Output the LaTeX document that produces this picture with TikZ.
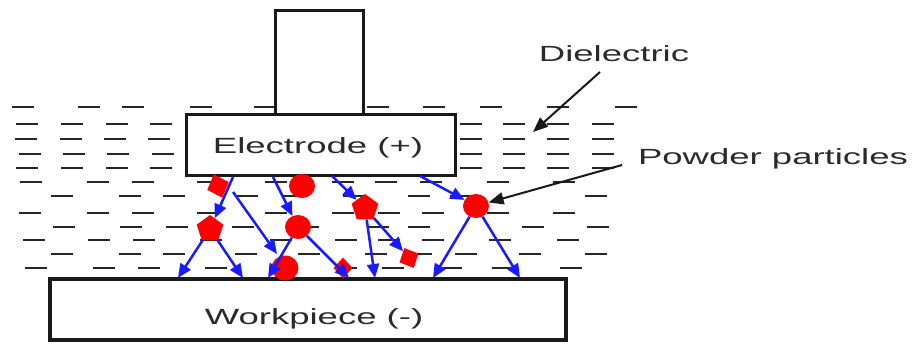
\documentclass[tikz,border=0pt]{standalone}
\usepackage{fontspec}
\setmainfont{Liberation Sans}
\usetikzlibrary{arrows.meta,shapes.geometric}
\definecolor{txt}{HTML}{2A2A2A}
\definecolor{pblue}{HTML}{1A1AFF}
\newcommand{\lbl}[1]{\fontsize{22}{26}\selectfont\scalebox{1.66}[1]{#1}}
\begin{document}
\begin{tikzpicture}[x=1pt,y=-1pt,
  dl/.style={line width=2.2pt,black!85},
  boxn/.style={draw=black!90,fill=white,inner sep=0pt,text=txt},
  barrow/.style={pblue,line width=2.5pt,-{Triangle[length=14pt,width=12pt]}},
  karrow/.style={black!90,line width=2pt,-{Triangle[length=15pt,width=12pt]}},
  ptc/.style={fill=red,inner sep=0pt,draw=none},
  circp/.style={ptc,ellipse,minimum width=26pt,minimum height=24pt},
  pentp/.style={ptc,regular polygon,regular polygon sides=5,minimum size=28pt},
  diap/.style={ptc,diamond,minimum width=23pt,minimum height=25pt},
  lab/.style={text=txt,inner sep=0pt}]
\useasboundingbox (0,0) rectangle (912,345);
% dielectric dashes
\foreach \x in {12,78,122,190,254,367,423,480,547,615} \draw[dl] (\x,107) -- ++(22,0);
\foreach \x in {16,61,106,150,460,503,547,592} \draw[dl] (\x,124) -- ++(22,0);
\foreach \x in {15,60,104,148,460,503,547,592} \draw[dl] (\x,139) -- ++(22,0);
\foreach \x in {19,63,107,152,460,503,547,592} \draw[dl] (\x,154) -- ++(22,0);
\foreach \x in {16,61,106,150,460,503,547,592} \draw[dl] (\x,168) -- ++(22,0);
\foreach \x in {20,87,132,197,265,332,375,420,487,553} \draw[dl] (\x,182) -- ++(22,0);
\foreach \x in {51,119,163,236,283,343,408,450,585} \draw[dl] (\x,196) -- ++(22,0);
\foreach \x in {19,87,132,197,265,332,378,422,487,553} \draw[dl] (\x,213) -- ++(22,0);
\foreach \x in {53,120,166,232,297,367,408,522,587} \draw[dl] (\x,227) -- ++(22,0);
\foreach \x in {23,88,133,200,270,335,378,422,489,557} \draw[dl] (\x,240) -- ++(22,0);
\foreach \x in {51,119,163,235,298,365,410,455,519,585} \draw[dl] (\x,254) -- ++(22,0);
\foreach \x in {25,93,138,205,270,335,382,440,492,560} \draw[dl] (\x,268) -- ++(22,0);
% electrode and workpiece
\node[boxn,line width=3pt,minimum width=88pt,minimum height=103pt] (shaft) at (319,62.5) {};
\node[boxn,line width=3pt,minimum width=269pt,minimum height=61pt] (el) at (320.5,144.5) {};
\node[lab] (eltext) at (318,148) {\lbl{Electrode (+)}};
\node[boxn,line width=4pt,minimum width=516pt,minimum height=61pt] (wp) at (308,309.5) {};
\node[lab] (wptext) at (314,319) {\lbl{Workpiece (-)}};
% particles
\node[diap,rotate=20] (d1) at (218,186) {};
\node[circp] (c1) at (302,186) {};
\node[pentp] (p2) at (365,208) {};
\node[circp] (c3) at (476,206) {};
\node[pentp] (p1) at (210,229) {};
\node[circp] (c2) at (298,227) {};
\node[diap,rotate=25,minimum width=21pt,minimum height=22pt] (d2) at (409,258) {};
\node[circp,minimum width=27pt,minimum height=25pt] (c4) at (285,268) {};
\node[diap,minimum width=19pt,minimum height=21pt] (d3) at (343,268) {};
% arrow endpoints
\coordinate (s1) at (233,177);
\coordinate (s2) at (233,192);
\coordinate (t2) at (277,254);
\coordinate (t3) at (178,278);
\coordinate (t4) at (243,278);
\coordinate (s5) at (273,177);
\coordinate (t6) at (268,278);
\coordinate (t7) at (349,278);
\coordinate (s8) at (332,176);
\coordinate (t9) at (375,278);
\coordinate (s11) at (420,176);
\coordinate (t12) at (433,278);
\coordinate (t13) at (520,278);
% blue paths
\draw[barrow] (s1) -- (p1);
\draw[barrow] (s2) -- (t2);
\draw[barrow] (p1) -- (t3);
\draw[barrow] (p1) -- (t4);
\draw[barrow] (s5) -- (c2);
\draw[barrow] (c2) -- (t6);
\draw[barrow] (c2) -- (t7);
\draw[barrow] (s8) -- (p2);
\draw[barrow] (p2) -- (t9);
\draw[barrow] (p2) -- (d2);
\draw[barrow] (s11) -- (c3);
\draw[barrow] (c3) -- (t12);
\draw[barrow] (c3) -- (t13);
% labels
\node[lab] (diel) at (614,54) {\lbl{Dielectric}};
\node[lab] (powd) at (773,159) {\lbl{Powder particles}};
\coordinate (ds) at (600,72);
\coordinate (de) at (533,132);
\coordinate (ps) at (622,165);
\draw[karrow] (ds) -- (de);
\draw[karrow] (ps) -- (c3);
\end{tikzpicture}
\end{document}
